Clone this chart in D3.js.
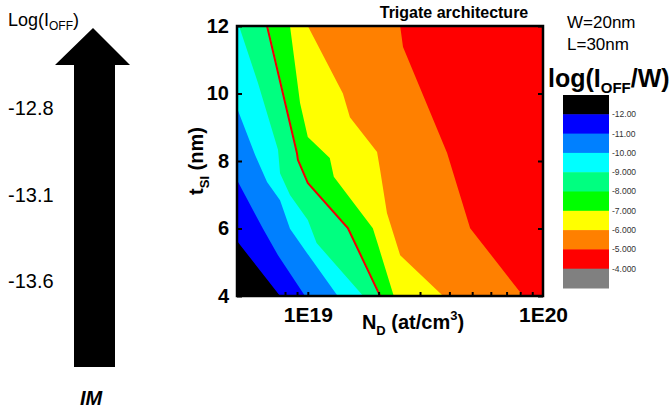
<!DOCTYPE html>
<html>
<head>
<meta charset="utf-8">
<script src="https://cdn.jsdelivr.net/npm/d3@7"></script>
<style>
  html, body { margin: 0; padding: 0; background: #fff; }
  svg { display: block; }
  text { font-family: "Liberation Sans", Arial, sans-serif; }
</style>
</head>
<body>
<svg id="chart" width="672" height="414"></svg>
<script>
// ---------------- data ----------------
// contour boundaries of log(IOFF/W): [N_D (at/cm3), t_SI (nm)]
const contourM12 = [[5.0e18, 5.63], [7.62e18, 4.0]];
const contourM11 = [[5.0e18, 7.44], [6.45e18, 5.99], [7.47e18, 5.21], [9.73e18, 4.0]];
const contourM10 = [[5.0e18, 9.57], [5.97e18, 8.18], [6.71e18, 7.38], [7.62e18, 6.84], [8.40e18, 5.99], [9.93e18, 5.27], [1.34e19, 4.0]];
const contourM9  = [[5.1e18, 12], [6.14e18, 10.31], [7.47e18, 8.33], [7.62e18, 7.64], [8.40e18, 6.99], [1.0e19, 6.25], [1.09e19, 5.57], [1.72e19, 4.0]];
const contourM8  = [[6.78e18, 12], [9.05e18, 8.24], [9.15e18, 8.03], [1.01e19, 7.35], [1.49e19, 6.01], [1.71e19, 5.13], [2.05e19, 4.0]];
const contourM7  = [[8.40e18, 12], [9.27e18, 9.72], [1.0e19, 8.71], [1.24e19, 8.09], [1.29e19, 7.53], [1.89e19, 6.01], [1.99e19, 5.51], [2.32e19, 4.0]];
const contourM6  = [[1.0e19, 12], [1.41e19, 10.0], [1.51e19, 9.30], [1.97e19, 8.27], [2.03e19, 7.73], [2.17e19, 6.46], [2.47e19, 5.21], [3.76e19, 4.0]];
const contourM5  = [[2.47e19, 12], [2.54e19, 11.38], [3.91e19, 8.24], [4.90e19, 6.01], [8.23e19, 4.0]];
// red line (IM)
const imLine = [[6.71e18, 12], [8.99e18, 8.24], [9.08e18, 8.03], [1.0e19, 7.35], [1.48e19, 6.01], [1.70e19, 5.13], [2.03e19, 4.0]];

const levelContours = [contourM12, contourM11, contourM10, contourM9, contourM8, contourM7, contourM6, contourM5];
const legendLabels = ["-12.00", "-11.00", "-10.00", "-9.000", "-8.000", "-7.000", "-6.000", "-5.000", "-4.000"];
const legendColors = ["#000000", "#0000ff", "#0080ff", "#00ffff", "#00ff80", "#00ff00", "#ffff00", "#ff8000", "#ff0000", "#808080"];

const xDomain = [5e18, 1e20];
const yDomain = [4, 12];
const xMinorTicks = [6e18, 7e18, 8e18, 9e18, 1e19, 2e19, 3e19, 4e19, 5e19, 6e19, 7e19, 8e19, 9e19];
const xMajorTicks = [1e19, 1e20];
const xMajorLabels = ["1E19", "1E20"];
const yTicks = [4, 6, 8, 10, 12];

const imLabels = ["-12.8", "-13.1", "-13.6"];

// ---------------- layout ----------------
const svg = d3.select("#chart");
const plot = { left: 237, right: 543, top: 26, bottom: 296 };

const x = d3.scaleLog().domain(xDomain).range([plot.left, plot.right]);
const y = d3.scaleLinear().domain(yDomain).range([plot.bottom, plot.top]);

svg.append("defs").append("clipPath").attr("id", "clip")
  .append("rect").attr("x", plot.left).attr("y", plot.top)
  .attr("width", plot.right - plot.left).attr("height", plot.bottom - plot.top);

const g = svg.append("g").attr("clip-path", "url(#clip)");
g.append("rect").attr("x", plot.left).attr("y", plot.top)
  .attr("width", plot.right - plot.left).attr("height", plot.bottom - plot.top)
  .attr("fill", legendColors[0]);

const line = d3.line().x(d => x(d[0])).y(d => y(d[1]));
levelContours.forEach((c, i) => {
  const poly = c.concat([[xDomain[1] * 1.2, yDomain[0] - 1], [xDomain[1] * 1.2, yDomain[1] + 1], [xDomain[0] / 1.2, yDomain[1] + 1], [xDomain[0] / 1.2, c[0][1] >= yDomain[1] ? yDomain[1] + 1 : c[0][1]]]);
  g.append("path").attr("d", line(poly) + "Z").attr("fill", legendColors[i + 1]).attr("stroke", "none");
});

g.append("path").attr("d", line(imLine)).attr("fill", "none")
  .attr("stroke", "#f00000").attr("stroke-width", 2);

// axes
const axB = svg.append("g").attr("transform", `translate(0,${plot.bottom})`)
  .call(d3.axisBottom(x).tickValues(xMinorTicks).tickSizeInner(-4).tickSizeOuter(0).tickFormat(""));
const axBL = svg.append("g").attr("transform", `translate(0,${plot.bottom})`)
  .call(d3.axisBottom(x).tickValues(xMajorTicks).tickSize(0).tickPadding(10)
    .tickFormat((d, i) => xMajorLabels[i]));
const axL = svg.append("g").attr("transform", `translate(${plot.left},0)`)
  .call(d3.axisLeft(y).tickValues(yTicks).tickSizeInner(-5).tickSizeOuter(0).tickPadding(8).tickFormat(d3.format("d")));
const axR = svg.append("g").attr("transform", `translate(${plot.right},0)`)
  .call(d3.axisRight(y).tickValues(yTicks).tickSizeInner(-5).tickSizeOuter(0).tickFormat(""));
[axB, axBL, axL, axR].forEach(a => {
  a.select(".domain").remove();
  a.selectAll(".tick line").attr("stroke", "#000").attr("stroke-width", 2);
  a.selectAll("text").attr("font-size", 20).attr("font-weight", "bold")
    .attr("font-family", "Liberation Sans, Arial, sans-serif").attr("fill", "#000");
});
axBL.selectAll("text").attr("font-size", 21).attr("dy", "0.75em");

svg.append("rect").attr("x", plot.left).attr("y", plot.top)
  .attr("width", plot.right - plot.left).attr("height", plot.bottom - plot.top)
  .attr("fill", "none").attr("stroke", "#000").attr("stroke-width", 2.5);

// titles
svg.append("text").attr("x", 454).attr("y", 18).attr("text-anchor", "middle")
  .attr("font-size", 16).attr("font-weight", "bold").text("Trigate architecture");

const xt = svg.append("text").attr("x", 413).attr("y", 329).attr("text-anchor", "middle")
  .attr("font-size", 20).attr("font-weight", "bold");
xt.append("tspan").text("N");
xt.append("tspan").attr("font-size", 13).attr("dy", 6).text("D");
xt.append("tspan").attr("dy", -6).text(" (at/cm");
xt.append("tspan").attr("font-size", 13).attr("dy", -9).text("3");
xt.append("tspan").attr("dy", 9).text(")");

const yt = svg.append("text").attr("transform", "translate(203,161) rotate(-90)")
  .attr("text-anchor", "middle").attr("font-size", 20).attr("font-weight", "bold");
yt.append("tspan").text("t");
yt.append("tspan").attr("font-size", 13).attr("dy", 6).text("SI");
yt.append("tspan").attr("dy", -6).text(" (nm)");

svg.append("text").attr("x", 567).attr("y", 28).attr("font-size", 17).text("W=20nm");
svg.append("text").attr("x", 567).attr("y", 50).attr("font-size", 17).text("L=30nm");

const lt = svg.append("text").attr("x", 548).attr("y", 87).attr("font-size", 25).attr("font-weight", "bold");
lt.append("tspan").text("log(I");
lt.append("tspan").attr("font-size", 15).attr("dy", 6).text("OFF");
lt.append("tspan").attr("dy", -6).text("/W)");

// legend
const legTop = 95, legH = 19.3, legX = 563, legW = 46;
svg.selectAll("rect.leg").data(legendColors).enter().append("rect")
  .attr("class", "leg").attr("x", legX).attr("y", (d, i) => legTop + i * legH)
  .attr("width", legW).attr("height", legH + 0.5).attr("fill", d => d);
svg.selectAll("text.leg").data(legendLabels).enter().append("text")
  .attr("class", "leg").attr("x", legX + legW + 3).attr("y", (d, i) => legTop + (i + 1) * legH)
  .attr("dy", "0.35em").attr("font-size", 8.5).attr("fill", "#333").text(d => d);

// left panel: IM arrow
const arrowPts = [[74, 367], [74, 65], [55, 65], [93, 28], [130, 65], [115, 65], [115, 367]];
svg.append("path").attr("d", d3.line()(arrowPts) + "Z").attr("fill", "#000");

const lg = svg.append("text").attr("x", 8).attr("y", 26).attr("font-size", 18);
lg.append("tspan").text("Log(I");
lg.append("tspan").attr("font-size", 12).attr("dy", 4).text("OFF");
lg.append("tspan").attr("dy", -4).text(")");

const imY = [115, 202, 288];
svg.selectAll("text.im").data(imLabels).enter().append("text")
  .attr("class", "im").attr("x", 8).attr("y", (d, i) => imY[i]).attr("font-size", 20).text(d => d);

svg.append("text").attr("x", 91).attr("y", 405).attr("text-anchor", "middle")
  .attr("font-size", 20).attr("font-weight", "bold").attr("font-style", "italic").text("IM");
</script>
</body>
</html>
